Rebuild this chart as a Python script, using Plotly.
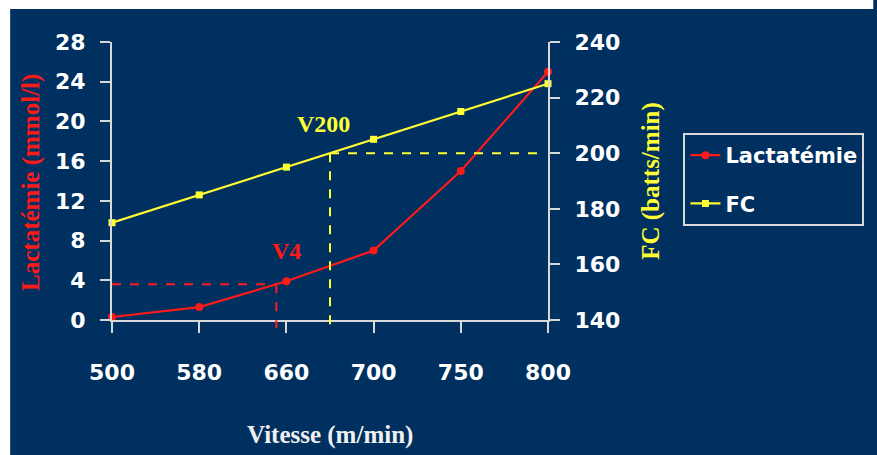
import numpy as np
import plotly.graph_objects as go

# Running speed steps (m/min) and the measured responses
vitesse = ["500", "580", "660", "700", "750", "800"]
lactatemie = [0.3, 1.3, 3.9, 7.0, 15.0, 25.0]      # mmol/l
fc = [175, 185, 195, 205, 215, 225]                 # batts/min

# Reference thresholds
seuil_lactate = 3.6   # lactate level marking V4
seuil_fc = 200        # heart rate marking V200

lact_ticks = [0, 4, 8, 12, 16, 20, 24, 28]
fc_ticks = [140, 160, 180, 200, 220, 240]

NAVY = "#00305f"
RED = "#ff1a1a"
YELLOW = "#ffff33"
AXIS = "#d8d8d8"

W, H = 877, 455
ML, MR, MT, MB = 112, 324, 42, 135
PW, PH = W - ML - MR, H - MT - MB

idx = np.arange(len(vitesse))


def px_x(px):
    return (px - ML) / PW


def px_y(py):
    return 1 - (py - MT) / PH


def idx_to_paper(i):
    return i / (len(vitesse) - 1)


def lact_to_paper(v):
    return (v - lact_ticks[0]) / (lact_ticks[-1] - lact_ticks[0])


def fc_to_paper(v):
    return (v - fc_ticks[0]) / (fc_ticks[-1] - fc_ticks[0])


# Speeds at which each curve crosses its threshold
i_v4 = float(np.interp(seuil_lactate, lactatemie, idx))
i_v200 = float(np.interp(seuil_fc, fc, idx))

fig = go.Figure()
fig.add_trace(go.Scatter(
    x=idx, y=lactatemie, name="Lactatémie", mode="lines+markers",
    line=dict(color=RED, width=2.2), marker=dict(symbol="circle", size=8, color=RED),
    legendgroup="a", cliponaxis=False,
))
fig.add_trace(go.Scatter(
    x=idx, y=fc, name="FC", yaxis="y2", mode="lines+markers",
    line=dict(color=YELLOW, width=2.2), marker=dict(symbol="square", size=7, color=YELLOW),
    legendgroup="b", cliponaxis=False,
))

below_axis = px_y(328)
dash = dict(width=2, dash="dash")
shapes = [
    # white frame strips along the top and left edges
    dict(type="rect", xref="paper", yref="paper",
         x0=px_x(-5), x1=px_x(9), y0=px_y(H + 5), y1=px_y(-5),
         fillcolor="white", line=dict(width=0)),
    dict(type="rect", xref="paper", yref="paper",
         x0=px_x(-5), x1=px_x(W + 5), y0=px_y(9), y1=px_y(-5),
         fillcolor="white", line=dict(width=0)),
    # V4 guides
    dict(type="line", xref="paper", yref="paper",
         x0=0, x1=idx_to_paper(i_v4),
         y0=lact_to_paper(seuil_lactate), y1=lact_to_paper(seuil_lactate),
         line=dict(color=RED, **dash)),
    dict(type="line", xref="paper", yref="paper",
         x0=idx_to_paper(i_v4), x1=idx_to_paper(i_v4),
         y0=lact_to_paper(seuil_lactate), y1=below_axis,
         line=dict(color=RED, **dash)),
    # V200 guides
    dict(type="line", xref="paper", yref="paper",
         x0=idx_to_paper(i_v200), x1=idx_to_paper(4.9),
         y0=fc_to_paper(seuil_fc), y1=fc_to_paper(seuil_fc),
         line=dict(color=YELLOW, **dash)),
    dict(type="line", xref="paper", yref="paper",
         x0=idx_to_paper(i_v200), x1=idx_to_paper(i_v200),
         y0=fc_to_paper(seuil_fc), y1=below_axis,
         line=dict(color=YELLOW, **dash)),
]

tick_font = dict(family="DejaVu Sans", size=22, color="white", weight="bold")
serif = "Liberation Serif"

annotations = [
    dict(text="<b>V4</b>", x=2, y=6.95, xref="x", yref="y", showarrow=False,
         xanchor="center", yanchor="middle",
         font=dict(family=serif, size=24, color=RED)),
    dict(text="<b>V200</b>", x=i_v200 - 0.07, y=210.5, xref="x", yref="y2", showarrow=False,
         xanchor="center", yanchor="middle",
         font=dict(family=serif, size=24, color=YELLOW)),
    dict(text="<b>Lactatémie (mmol/l)</b>", x=px_x(30), y=px_y(182), xref="paper", yref="paper",
         textangle=-90, showarrow=False, xanchor="center", yanchor="middle",
         font=dict(family=serif, size=25, color=RED)),
    dict(text="<b>FC (batts/min)</b>", x=px_x(657), y=px_y(181), xref="paper", yref="paper",
         textangle=-90, showarrow=False, xanchor="center", yanchor="middle",
         font=dict(family=serif, size=25, color=YELLOW)),
    dict(text="<b>Vitesse (m/min)</b>", x=px_x(333), y=px_y(435), xref="paper", yref="paper",
         showarrow=False, xanchor="center", yanchor="middle",
         font=dict(family=serif, size=25, color="#f0f0f0")),
]

fig.update_layout(
    width=W, height=H,
    margin=dict(l=ML, r=MR, t=MT, b=MB),
    paper_bgcolor=NAVY, plot_bgcolor=NAVY,
    shapes=shapes, annotations=annotations,
    xaxis=dict(
        range=[0, len(vitesse) - 1], tickvals=list(idx), ticktext=vitesse,
        showgrid=False, zeroline=False, showline=True, linecolor=AXIS, linewidth=2,
        ticks="outside", ticklen=11, tickwidth=2, tickcolor=AXIS,
        tickfont=tick_font, ticklabelstandoff=21,
    ),
    yaxis=dict(
        range=[lact_ticks[0], lact_ticks[-1]], tickvals=lact_ticks,
        showgrid=False, zeroline=False, showline=True, linecolor=AXIS, linewidth=2,
        ticks="outside", ticklen=10, tickwidth=2, tickcolor=AXIS,
        tickfont=tick_font, ticklabelstandoff=10,
    ),
    yaxis2=dict(
        range=[fc_ticks[0], fc_ticks[-1]], tickvals=fc_ticks, overlaying="y", side="right",
        showgrid=False, zeroline=False, showline=True, linecolor=AXIS, linewidth=2,
        ticks="outside", ticklen=10, tickwidth=2, tickcolor=AXIS,
        tickfont=tick_font, ticklabelstandoff=10,
    ),
    legend=dict(
        x=px_x(690), y=px_y(133), xanchor="left", yanchor="top",
        bgcolor=NAVY, bordercolor=AXIS, borderwidth=2,
        font=dict(family="DejaVu Sans", size=21, color="white", weight="bold"),
        traceorder="grouped", tracegroupgap=18,
    ),
    showlegend=True,
)

# page background matches the panel so no stray edge shows around the figure
page_css = (
    "document.documentElement.style.overflow='hidden';"
    "document.documentElement.style.background='" + NAVY + "';"
    "document.body.style.background='" + NAVY + "';"
    "document.body.style.margin='0';"
)
fig.write_html("out.html", post_script=page_css)
